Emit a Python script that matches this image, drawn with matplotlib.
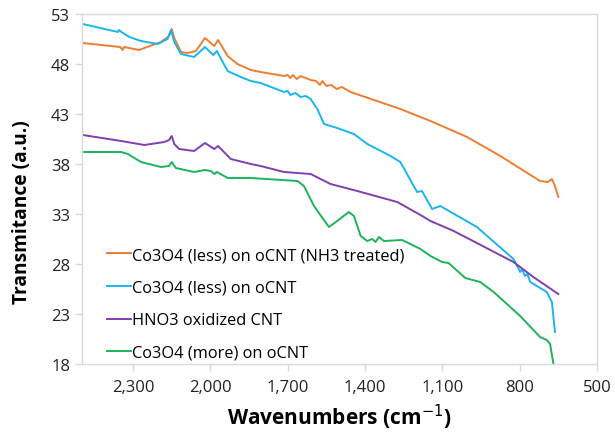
import matplotlib
matplotlib.use("Agg")
import matplotlib.pyplot as plt
from matplotlib.ticker import FuncFormatter

# ---- data ----
orange_w = [2495, 2350, 2340, 2335, 2277, 2192, 2160, 2150, 2140, 2114, 2088, 2056, 2021, 1985, 1970,
            1933, 1895, 1843, 1805, 1714, 1700, 1690, 1680, 1665, 1650, 1611, 1590, 1575, 1565, 1550,
            1530, 1510, 1490, 1456, 1263, 1146, 1004, 875, 721, 690, 675, 663, 650]
orange_v = [50.1, 49.7, 49.4, 49.7, 49.4, 50.2, 50.8, 51.5, 50.6, 49.2, 49.1, 49.3, 50.6, 49.8, 50.4,
            48.8, 48.0, 47.4, 47.2, 46.8, 46.9, 46.6, 46.9, 46.5, 46.8, 46.4, 46.3, 45.9, 46.3, 45.8,
            45.9, 45.5, 45.7, 45.2, 43.5, 42.3, 40.7, 38.8, 36.3, 36.2, 36.5, 35.8, 34.7]

blue_w = [2495, 2359, 2355, 2345, 2314, 2269, 2204, 2166, 2153, 2140, 2114, 2063, 2021, 1988, 1975, 1933,
          1882, 1843, 1805, 1714, 1700, 1690, 1670, 1650, 1630, 1611, 1585, 1559, 1508, 1443, 1391,
          1301, 1263, 1198, 1179, 1140, 1108, 966, 824, 798, 790, 780, 770, 759, 695, 675, 663]
blue_v = [52.0, 51.2, 51.4, 51.2, 50.7, 50.3, 50.0, 50.5, 51.4, 50.2, 49.0, 48.7, 49.7, 48.9, 49.3, 47.3,
          46.7, 46.3, 46.1, 45.2, 45.3, 44.9, 45.1, 44.7, 44.8, 44.5, 43.5, 42.0, 41.6, 41.0, 40.0,
          38.8, 38.2, 35.2, 35.3, 33.5, 33.8, 31.7, 28.5, 27.2, 27.5, 26.8, 27.0, 26.2, 25.2, 24.2, 21.2]

purple_w = [2495, 2346, 2256, 2179, 2160, 2150, 2140, 2121, 2063, 2021, 1985, 1970, 1921, 1843, 1805,
            1714, 1611, 1534, 1430, 1275, 1185, 1146, 1056, 824, 747, 650]
purple_v = [40.9, 40.3, 39.9, 40.2, 40.4, 40.8, 40.0, 39.5, 39.3, 40.1, 39.5, 39.8, 38.5, 38.0, 37.8,
            37.2, 37.0, 36.0, 35.3, 34.2, 32.9, 32.3, 31.3, 28.2, 26.7, 25.0]

green_w = [2495, 2346, 2320, 2269, 2192, 2160, 2150, 2134, 2063, 2021, 1998, 1985, 1975, 1933, 1843,
           1662, 1637, 1598, 1540, 1508, 1463, 1443, 1417, 1391, 1372, 1359, 1346, 1327, 1256, 1185,
           1146, 1101, 1076, 1011, 953, 901, 798, 721, 695, 682, 669]
green_v = [39.2, 39.2, 39.0, 38.2, 37.7, 37.8, 38.2, 37.6, 37.2, 37.4, 37.3, 37.0, 37.2, 36.6, 36.6,
           36.3, 35.8, 33.8, 31.7, 32.3, 33.2, 32.8, 30.8, 30.3, 30.5, 30.2, 30.7, 30.3, 30.4, 29.5,
           28.8, 28.2, 28.1, 26.6, 26.2, 25.2, 22.8, 20.7, 20.4, 20.0, 18.0]

labels = ["Co3O4 (less) on oCNT (NH3 treated)", "Co3O4 (less) on oCNT",
          "HNO3 oxidized CNT", "Co3O4 (more) on oCNT"]
colors = ["#ED7D31", "#1AB4F0", "#7F3FB0", "#1DB35A"]
x_ticks = [2300, 2000, 1700, 1400, 1100, 800, 500]
y_ticks = [18, 23, 28, 33, 38, 43, 48, 53]

plt.rcParams['font.family'] = ['Open Sans', 'DejaVu Sans']

fig = plt.figure(figsize=(6.15, 4.35), dpi=100)
ax = fig.add_axes([82/615, 1-365/435, (597-82)/615, (365-15)/435])

series = [(orange_w, orange_v), (blue_w, blue_v), (purple_w, purple_v), (green_w, green_v)]
for (w, v), lab, c in zip(series, labels, colors):
    ax.plot(w, v, color=c, lw=1.4, label=lab)

ax.set_xlim(2498, 500)
ax.set_ylim(18, 53)
ax.set_xticks(x_ticks)
ax.set_yticks(y_ticks)
ax.xaxis.set_major_formatter(FuncFormatter(lambda x, p: f"{int(x):,}"))

for s in ax.spines.values():
    s.set_color("#D9D9D9")
    s.set_linewidth(1.0)
ax.tick_params(axis='both', colors="#D9D9D9", labelcolor="#222222", labelsize=12,
               length=5, width=1, direction='out')
ax.tick_params(axis='x', pad=6)

ax.set_xlabel("Wavenumbers (cm$^{-1}$)", fontsize=15, fontweight='bold', labelpad=5)
fig.text(22/615, 1-212/435, "Transmitance (a.u.)", rotation=90, ha='center', va='center',
         fontsize=13.8, fontweight='bold')

ax.legend(loc='lower left', bbox_to_anchor=(107/615, 1-362/435), bbox_transform=fig.transFigure,
          frameon=False, fontsize=11.75, handlelength=1.47, handletextpad=0.08,
          labelspacing=1.02, borderpad=0, borderaxespad=0)

fig.savefig("out.png", dpi=100)
